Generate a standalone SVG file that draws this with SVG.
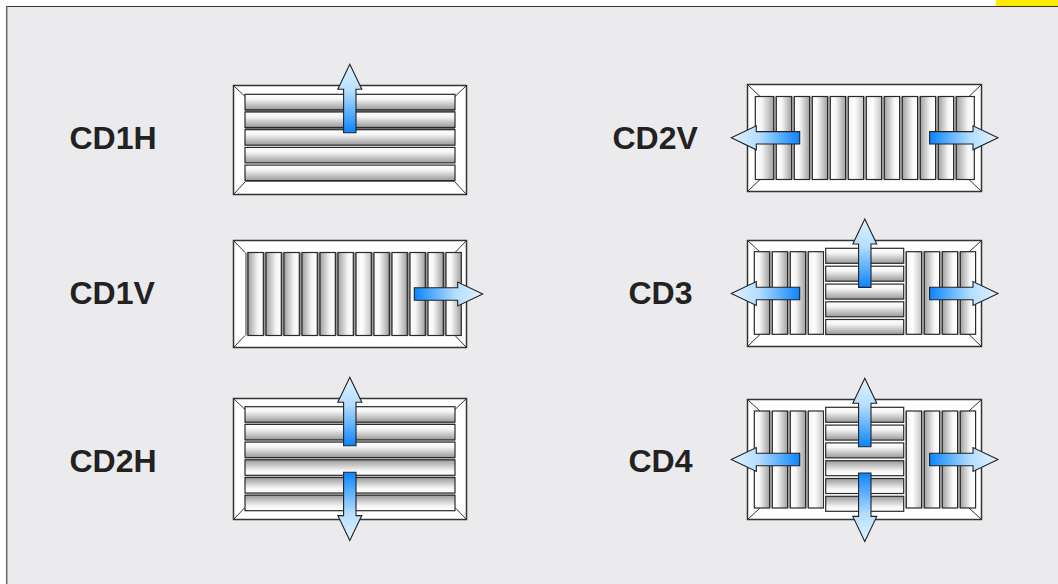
<svg xmlns="http://www.w3.org/2000/svg" xmlns:xlink="http://www.w3.org/1999/xlink" width="1058" height="584" viewBox="0 0 1058 584">
<style>
.frame{fill:#fff;stroke:#333;stroke-width:1.5}
.bevel{stroke:#333;stroke-width:1;fill:none}
.s{stroke:#2a2a2a;stroke-width:1.2}
.hb{fill:url(#hb)}.ht{fill:url(#ht)}.vl{fill:url(#vl)}.vr{fill:url(#vr)}.vc{fill:url(#vc)}
.label{font:bold 32px "Liberation Sans",Arial,sans-serif;fill:#222}
.arrow{fill:url(#ag);stroke:#222;stroke-width:1.1;stroke-linejoin:miter}
</style>
<defs>
<linearGradient id="hb" x1="0" y1="0" x2="0" y2="1"><stop offset="0" stop-color="#fff"/><stop offset=".3" stop-color="#f6f6f6"/><stop offset="1" stop-color="#999"/></linearGradient>
<linearGradient id="ht" x1="0" y1="1" x2="0" y2="0"><stop offset="0" stop-color="#fff"/><stop offset=".3" stop-color="#f6f6f6"/><stop offset="1" stop-color="#999"/></linearGradient>
<linearGradient id="vl" x1="1" y1="0" x2="0" y2="0"><stop offset="0" stop-color="#fff"/><stop offset=".35" stop-color="#f6f6f6"/><stop offset="1" stop-color="#a0a0a0"/></linearGradient>
<linearGradient id="vr" x1="0" y1="0" x2="1" y2="0"><stop offset="0" stop-color="#fff"/><stop offset=".35" stop-color="#f6f6f6"/><stop offset="1" stop-color="#a0a0a0"/></linearGradient>
<linearGradient id="vc" x1="0" y1="0" x2="1" y2="0"><stop offset="0" stop-color="#f0f0f0"/><stop offset=".4" stop-color="#fff"/><stop offset="1" stop-color="#c4c4c4"/></linearGradient>
<linearGradient id="ag" x1="0" y1="0" x2="0" y2="1"><stop offset="0" stop-color="#e0f2ff"/><stop offset=".4" stop-color="#b4deff"/><stop offset="1" stop-color="#0a84ff"/></linearGradient>
<polygon id="arrow" class="arrow" points="0,0 12,25 6.2,25 6.2,68.4 -6.2,68.4 -6.2,25 -12,25"/>
<rect id="hs" width="210" height="15.5"/>
<rect id="hc" width="78" height="15"/>
<rect id="vs" width="15.3" height="83"/>
<rect id="vs2" width="15.3" height="82.6"/>
<rect id="vs3" width="15.3" height="97"/>
</defs>

<rect x="0" y="0" width="1058" height="584" fill="#fff"/>
<rect x="996" y="0" width="62" height="6" fill="#ffed00"/>
<rect x="7" y="6.5" width="1051" height="577.5" fill="#ebebed"/>
<path d="M6 6.5H1058" stroke="#333" stroke-width="1" fill="none"/>
<path d="M6.7 6V584" stroke="#666" stroke-width="1.5" fill="none"/>

<g id="connectors"></g>

<g id="CD1H">
<text class="label" x="69.5" y="149">CD1H</text>
<rect class="frame" x="233.5" y="85.5" width="233" height="109"/>
<path class="bevel" d="M233.5 85.5L245 96.5M466.5 85.5L455 96.5M233.5 194.5L245 182M466.5 194.5L455 182"/>
<rect x="245" y="94" width="210" height="88" fill="#777"/>
<rect x="245" y="145" width="210" height="3" fill="#fff"/><rect x="245" y="162.5" width="210" height="3" fill="#fff"/>
<use href="#hs" class="s hb" x="245" y="94.3"/><use href="#hs" class="s hb" x="245" y="112"/><use href="#hs" class="s hb" x="245" y="129.7"/><use href="#hs" class="s hb" x="245" y="147.4"/><use href="#hs" class="s hb" x="245" y="165.1"/>
<use href="#arrow" transform="translate(349.8 64.3)"/>
</g>

<g id="CD1V">
<text class="label" x="69.5" y="304">CD1V</text>
<rect class="frame" x="233.5" y="240.5" width="233" height="107"/>
<path class="bevel" d="M233.5 240.5L245 252.5M466.5 240.5L455 252.5M233.5 347.5L245 335.5M466.5 347.5L455 335.5"/>
<rect x="245" y="252.5" width="215.5" height="83" fill="#999"/>
<use href="#vs" class="s vl" x="248" y="252.5"/><use href="#vs" class="s vl" x="266" y="252.5"/><use href="#vs" class="s vl" x="284" y="252.5"/><use href="#vs" class="s vl" x="302" y="252.5"/><use href="#vs" class="s vl" x="320" y="252.5"/><use href="#vs" class="s vl" x="338" y="252.5"/><use href="#vs" class="s vc" x="356" y="252.5"/><use href="#vs" class="s vr" x="374" y="252.5"/><use href="#vs" class="s vr" x="392" y="252.5"/><use href="#vs" class="s vr" x="410" y="252.5"/><use href="#vs" class="s vr" x="428" y="252.5"/><use href="#vs" class="s vr" x="446" y="252.5"/>
<use href="#arrow" transform="translate(482.7 294) rotate(90)"/>
</g>

<g id="CD2H">
<text class="label" x="69.5" y="472">CD2H</text>
<rect class="frame" x="233.5" y="398.5" width="233" height="121"/>
<path class="bevel" d="M233.5 398.5L245 409.5M466.5 398.5L455 409.5M233.5 519.5L245 507.5M466.5 519.5L455 507.5"/>
<rect x="245" y="406.7" width="210" height="104" fill="#ccc"/>
<use href="#hs" class="s hb" x="245" y="406.7"/><use href="#hs" class="s hb" x="245" y="424.4"/><use href="#hs" class="s hb" x="245" y="442.1"/><use href="#hs" class="s ht" x="245" y="459.8"/><use href="#hs" class="s ht" x="245" y="477.5"/><use href="#hs" class="s ht" x="245" y="495.2"/>
<use href="#arrow" transform="translate(349.8 377.3)"/>
<use href="#arrow" transform="translate(349.8 540.6) rotate(180)"/>
</g>

<g id="CD2V">
<text class="label" x="612.5" y="149">CD2V</text>
<rect class="frame" x="747.5" y="84.5" width="234" height="107"/>
<path class="bevel" d="M747.5 84.5L760 96.5M981.5 84.5L969 96.5M747.5 191.5L760 179.5M981.5 191.5L969 179.5"/>
<rect x="755" y="96.5" width="219.3" height="83" fill="#bbb"/>
<rect class="s vr" x="755.3" y="96.5" width="18.4" height="83"/>
<use href="#vs" class="s vr" x="776.3" y="96.5"/><use href="#vs" class="s vr" x="794.3" y="96.5"/><use href="#vs" class="s vr" x="812.3" y="96.5"/><use href="#vs" class="s vr" x="830.3" y="96.5"/><use href="#vs" class="s vc" x="848.3" y="96.5"/><use href="#vs" class="s vc" x="866.3" y="96.5"/><use href="#vs" class="s vl" x="884.3" y="96.5"/><use href="#vs" class="s vl" x="902.3" y="96.5"/><use href="#vs" class="s vl" x="920.3" y="96.5"/><use href="#vs" class="s vl" x="938.3" y="96.5"/>
<rect class="s vl" x="956.3" y="96.5" width="18" height="83"/>
<use href="#arrow" transform="translate(731.3 137.8) rotate(-90)"/>
<use href="#arrow" transform="translate(998 137.8) rotate(90)"/>
</g>

<g id="CD3">
<text class="label" x="628.5" y="304">CD3</text>
<rect class="frame" x="747.5" y="240.5" width="234" height="106"/>
<path class="bevel" d="M747.5 240.5L760 252M981.5 240.5L969 252M747.5 346.5L760 334.5M981.5 346.5L969 334.5"/>
<rect x="754" y="251.7" width="221" height="82.6" fill="#bbb"/>
<use href="#vs2" class="s vr" x="754.3" y="251.7"/><use href="#vs2" class="s vr" x="772.3" y="251.7"/><use href="#vs2" class="s vr" x="790.3" y="251.7"/><use href="#vs2" class="s vc" x="808.3" y="251.7"/>
<use href="#vs2" class="s vc" x="906.3" y="251.7"/><use href="#vs2" class="s vl" x="924.3" y="251.7"/><use href="#vs2" class="s vl" x="942.3" y="251.7"/><use href="#vs2" class="s vl" x="960.3" y="251.7"/>
<rect x="824" y="248" width="81" height="86.5" fill="#fff"/>
<use href="#hc" class="s hb" x="825.7" y="248.3"/><use href="#hc" class="s hb" x="825.7" y="266.2"/><use href="#hc" class="s hb" x="825.7" y="284.1"/><use href="#hc" class="s hb" x="825.7" y="301.8"/><use href="#hc" class="s hb" x="825.7" y="319.5"/>
<use href="#arrow" transform="translate(731.3 293.5) rotate(-90)"/>
<use href="#arrow" transform="translate(998 293.5) rotate(90)"/>
<use href="#arrow" transform="translate(864.8 219)"/>
</g>

<g id="CD4">
<text class="label" x="628.5" y="472">CD4</text>
<rect class="frame" x="747.5" y="399.5" width="234" height="120"/>
<path class="bevel" d="M747.5 399.5L760 411M981.5 399.5L969 411M747.5 519.5L760 508M981.5 519.5L969 508"/>
<rect x="754" y="411" width="221" height="97" fill="#bbb"/>
<use href="#vs3" class="s vr" x="754.3" y="411"/><use href="#vs3" class="s vr" x="772.3" y="411"/><use href="#vs3" class="s vr" x="790.3" y="411"/><use href="#vs3" class="s vc" x="808.3" y="411"/>
<use href="#vs3" class="s vc" x="906.3" y="411"/><use href="#vs3" class="s vl" x="924.3" y="411"/><use href="#vs3" class="s vl" x="942.3" y="411"/><use href="#vs3" class="s vl" x="960.3" y="411"/>
<rect x="824" y="406" width="81" height="106.5" fill="#fff"/>
<use href="#hc" class="s hb" x="825.7" y="407.3"/><use href="#hc" class="s hb" x="825.7" y="425.1"/><use href="#hc" class="s hb" x="825.7" y="442.9"/><use href="#hc" class="s ht" x="825.7" y="460.7"/><use href="#hc" class="s ht" x="825.7" y="478.5"/><use href="#hc" class="s ht" x="825.7" y="496.3"/>
<use href="#arrow" transform="translate(731.3 459.5) rotate(-90)"/>
<use href="#arrow" transform="translate(998 459.5) rotate(90)"/>
<use href="#arrow" transform="translate(864.8 378.3)"/>
<use href="#arrow" transform="translate(864.8 541.4) rotate(180)"/>
</g>
</svg>
